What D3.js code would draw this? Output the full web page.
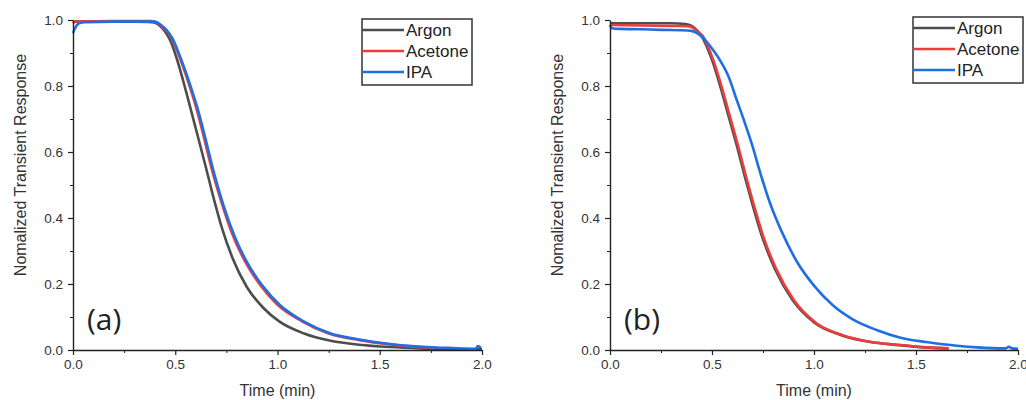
<!DOCTYPE html>
<html>
<head>
<meta charset="utf-8">
<script src="https://cdn.jsdelivr.net/npm/d3@7.9.0/dist/d3.min.js"></script>
<style>
  body { margin: 0; background: #fff; }
  svg { display: block; }
  .tick text { font-family: "Liberation Sans", Arial, sans-serif; font-size: 13.5px; fill: #333; }
  .title { font-family: "Liberation Sans", Arial, sans-serif; font-size: 16px; fill: #333; }
  .legend text { font-family: "Liberation Sans", Arial, sans-serif; font-size: 17px; fill: #222; }
</style>
</head>
<body>
<svg id="chart" width="1026" height="400"></svg>
<script>
// ---- data (time in min, normalized response) ----
const seriesNames = ['Argon', 'Acetone', 'IPA'];
const seriesColors = ['#4d4d4d', '#ee3b3b', '#1f6fe3'];

// panel (a)
const argonA = [[0,0.995],[0.3,0.995],[0.37,0.994],[0.39,0.993],[0.42,0.985],[0.45,0.965],[0.48,0.932],[0.51,0.878],[0.55,0.79],[0.6,0.672],[0.65,0.553],[0.69,0.455],[0.73,0.366],[0.78,0.279],[0.85,0.191],[0.93,0.128],[1.01,0.086],[1.13,0.05],[1.26,0.028],[1.4,0.016],[1.55,0.009],[1.7,0.005],[1.85,0.003],[2.0,0.002]];
const acetoneA = [[0,0.99],[0.01,0.995],[0.2,0.997],[0.38,0.997],[0.42,0.988],[0.45,0.972],[0.48,0.948],[0.51,0.905],[0.54,0.855],[0.57,0.8],[0.6,0.74],[0.64,0.645],[0.68,0.545],[0.725,0.45],[0.78,0.35],[0.84,0.27],[0.92,0.193],[1.0,0.137],[1.12,0.087],[1.25,0.05],[1.4,0.03],[1.55,0.017],[1.65,0.011],[1.78,0.007]];
const ipaA = [[0,0.96],[0.01,0.975],[0.03,0.99],[0.06,0.993],[0.2,0.995],[0.4,0.995],[0.43,0.985],[0.46,0.968],[0.49,0.94],[0.52,0.895],[0.55,0.845],[0.58,0.79],[0.61,0.73],[0.65,0.635],[0.69,0.535],[0.735,0.44],[0.79,0.345],[0.85,0.267],[0.93,0.192],[1.01,0.137],[1.13,0.086],[1.26,0.05],[1.4,0.032],[1.55,0.018],[1.7,0.01],[1.85,0.006],[1.97,0.004],[1.98,0.012],[1.995,0.006]];

// panel (b)
const argonB = [[0,0.99],[0.3,0.99],[0.37,0.988],[0.40,0.982],[0.43,0.966],[0.451,0.949],[0.474,0.92],[0.5,0.879],[0.541,0.798],[0.582,0.707],[0.623,0.616],[0.661,0.525],[0.697,0.444],[0.746,0.343],[0.809,0.245],[0.894,0.152],[1.004,0.082],[1.134,0.045],[1.27,0.025],[1.415,0.015],[1.545,0.008],[1.66,0.005]];
const acetoneB = [[0,0.985],[0.3,0.982],[0.38,0.981],[0.41,0.975],[0.435,0.962],[0.457,0.949],[0.48,0.92],[0.506,0.879],[0.547,0.798],[0.588,0.707],[0.629,0.616],[0.667,0.525],[0.703,0.444],[0.752,0.343],[0.815,0.245],[0.9,0.152],[1.01,0.082],[1.14,0.045],[1.275,0.025],[1.42,0.015],[1.55,0.008],[1.66,0.005]];
const ipaB = [[0,0.985],[0.01,0.975],[0.05,0.973],[0.15,0.972],[0.25,0.97],[0.35,0.969],[0.4,0.967],[0.44,0.955],[0.474,0.934],[0.51,0.905],[0.54,0.877],[0.58,0.83],[0.62,0.76],[0.66,0.69],[0.7,0.615],[0.735,0.54],[0.785,0.444],[0.84,0.361],[0.915,0.269],[1.0,0.195],[1.095,0.134],[1.19,0.093],[1.31,0.06],[1.42,0.038],[1.55,0.024],[1.7,0.013],[1.8,0.008],[1.94,0.005],[1.955,0.01],[1.97,0.005],[2.0,0.004]];

const xMajor = [0, 0.5, 1.0, 1.5, 2.0];
const xMinor = [0.25, 0.75, 1.25, 1.75];
const yMajor = [0, 0.2, 0.4, 0.6, 0.8, 1.0];
const yMinor = [0.1, 0.3, 0.5, 0.7, 0.9];

// ---- layout ----
const panels = [
  { label: '(a)', series: [argonA, acetoneA, ipaA], left: 73, right: 482, legX: 362, legY: 19 },
  { label: '(b)', series: [argonB, acetoneB, ipaB], left: 610, right: 1018, legX: 913, legY: 17 },
];
const plotTop = 20, plotBottom = 350;

const svg = d3.select('#chart');

panels.forEach(p => {
  const g = svg.append('g');
  const x = d3.scaleLinear().domain([0, 2]).range([p.left, p.right]);
  const y = d3.scaleLinear().domain([0, 1]).range([plotBottom, plotTop]);

  // curves
  const line = d3.line().x(d => x(d[0])).y(d => y(d[1])).curve(d3.curveMonotoneX);
  p.series.forEach((s, i) => {
    g.append('path').datum(s)
      .attr('d', line)
      .attr('fill', 'none')
      .attr('stroke', seriesColors[i])
      .attr('stroke-width', 2.6)
      .attr('stroke-linejoin', 'round');
  });

  // minor ticks
  g.append('g').attr('transform', `translate(0,${plotBottom})`)
    .call(d3.axisBottom(x).tickValues(xMinor).tickSize(3).tickSizeOuter(0).tickFormat(''))
    .call(a => a.select('.domain').remove())
    .selectAll('line').attr('stroke', '#222');
  g.append('g').attr('transform', `translate(${p.left},0)`)
    .call(d3.axisLeft(y).tickValues(yMinor).tickSize(3).tickSizeOuter(0).tickFormat(''))
    .call(a => a.select('.domain').remove())
    .selectAll('line').attr('stroke', '#222');

  // major axes
  const xa = g.append('g').attr('transform', `translate(0,${plotBottom})`)
    .call(d3.axisBottom(x).tickValues(xMajor).tickSize(5).tickSizeOuter(0).tickPadding(4).tickFormat(d3.format('.1f')));
  const ya = g.append('g').attr('transform', `translate(${p.left},0)`)
    .call(d3.axisLeft(y).tickValues(yMajor).tickSize(5).tickSizeOuter(0).tickPadding(5).tickFormat(d3.format('.1f')));
  [xa, ya].forEach(a => {
    a.attr('font-family', null).attr('font-size', null);
    a.select('.domain').attr('stroke', '#222').attr('stroke-width', 1.4);
    a.selectAll('.tick line').attr('stroke', '#222').attr('stroke-width', 1.2);
  });

  // axis titles
  g.append('text').attr('class', 'title')
    .attr('x', (p.left + p.right) / 2).attr('y', 396)
    .attr('text-anchor', 'middle')
    .text('Time (min)');
  g.append('text').attr('class', 'title')
    .attr('transform', `translate(${p.left - 47},165) rotate(-90)`)
    .attr('text-anchor', 'middle')
    .text('Nomalized Transient Response');

  // panel label
  g.append('text')
    .attr('x', p.left + 14).attr('y', 330)
    .style('font-family', '"Open Sans", sans-serif')
    .style('font-size', '30px').style('fill', '#222')
    .text(p.label);

  // legend
  const lg = g.append('g').attr('class', 'legend').attr('transform', `translate(${p.legX},${p.legY})`);
  lg.append('rect').attr('width', 110).attr('height', 66)
    .attr('fill', '#fff').attr('stroke', '#333').attr('stroke-width', 1.5);
  seriesNames.forEach((n, i) => {
    const yy = 11 + i * 21;
    lg.append('line').attr('x1', 0).attr('x2', 42).attr('y1', yy).attr('y2', yy)
      .attr('stroke', seriesColors[i]).attr('stroke-width', 2.6);
    lg.append('text').attr('x', 44).attr('y', yy + 6).text(n);
  });
});
</script>
</body>
</html>
